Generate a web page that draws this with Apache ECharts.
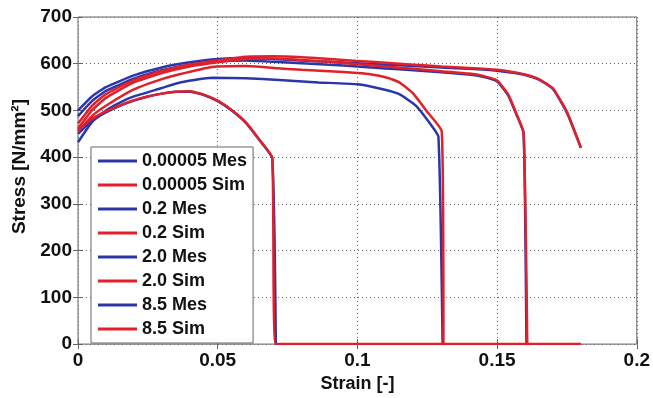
<!DOCTYPE html>
<html>
<head>
<meta charset="utf-8">
<script src="https://cdn.jsdelivr.net/npm/echarts@6/dist/echarts.min.js"></script>
<style>
  html, body { margin: 0; padding: 0; background: #fff; }
  #chart { width: 653px; height: 398px; }
</style>
</head>
<body>
<div id="chart"></div>
<script>
// legend names, in the order of the reference legend
const seriesNames = [
  '0.00005 Mes', '0.00005 Sim', '0.2 Mes', '0.2 Sim',
  '2.0 Mes', '2.0 Sim', '8.5 Mes', '8.5 Sim'
]

// [strain, stress]
const rate1Mes = [
  [0, 450], [0.005, 478], [0.01, 496], [0.015, 510], [0.02, 521], [0.025, 530],
  [0.03, 536], [0.035, 540], [0.04, 540], [0.045, 533], [0.05, 520], [0.055, 500],
  [0.06, 474], [0.065, 436], [0.0695, 398], [0.0708, 0]
]
const rate1Sim = [
  [0, 458], [0.005, 482], [0.01, 498], [0.015, 511], [0.02, 522], [0.025, 530],
  [0.03, 536], [0.035, 540], [0.04, 541], [0.045, 534], [0.05, 521], [0.055, 501],
  [0.06, 475], [0.065, 437], [0.0695, 399], [0.0708, 0], [0.18, 0]
]
const rate2Mes = [
  [0, 432], [0.005, 475], [0.01, 500], [0.015, 517], [0.02, 530], [0.03, 548],
  [0.0365, 560], [0.048, 570], [0.06, 569], [0.072, 565], [0.086, 560], [0.1, 556],
  [0.1087, 546], [0.115, 535], [0.121, 510], [0.126, 472], [0.129, 444], [0.1305, 0]
]
const rate2Sim = [
  [0, 455], [0.005, 488], [0.01, 510], [0.02, 545], [0.03, 567], [0.036, 577],
  [0.048, 593], [0.06, 595], [0.07, 591], [0.08, 587], [0.09, 584], [0.1, 580],
  [0.105, 577], [0.11, 571], [0.115, 560], [0.12, 536], [0.125, 497], [0.1302, 455],
  [0.1308, 0]
]
const rate3Mes = [
  [0, 488], [0.005, 520], [0.01, 542], [0.02, 568], [0.03, 586], [0.04, 598],
  [0.05, 605], [0.06, 607], [0.07, 604], [0.08, 601], [0.09, 598], [0.1, 594],
  [0.11, 590], [0.12, 586], [0.13, 582], [0.14, 577], [0.145, 572], [0.15, 562],
  [0.154, 532], [0.157, 490], [0.1595, 451], [0.1605, 0]
]
const rate3Sim = [
  [0, 461], [0.005, 500], [0.01, 527], [0.02, 560], [0.03, 580], [0.04, 594],
  [0.05, 603], [0.06, 610], [0.07, 611], [0.08, 608], [0.09, 604], [0.1, 599],
  [0.11, 594], [0.12, 589], [0.13, 584], [0.14, 579], [0.145, 574], [0.15, 564],
  [0.154, 534], [0.157, 492], [0.1595, 452], [0.1608, 0]
]
const rate4Mes = [
  [0, 500], [0.005, 530], [0.01, 550], [0.02, 575], [0.03, 592], [0.04, 603],
  [0.05, 610], [0.06, 612], [0.07, 610], [0.08, 607], [0.09, 604], [0.1, 601],
  [0.11, 598], [0.12, 595], [0.13, 592], [0.14, 589], [0.15, 585], [0.155, 581],
  [0.16, 576], [0.165, 566], [0.17, 546], [0.175, 495], [0.18, 420]
]
const rate4Sim = [
  [0, 472], [0.005, 510], [0.01, 535], [0.02, 565], [0.03, 585], [0.04, 598],
  [0.05, 607], [0.06, 615], [0.07, 616], [0.08, 614], [0.09, 610], [0.1, 606],
  [0.11, 602], [0.12, 598], [0.13, 594], [0.14, 591], [0.15, 587], [0.155, 583],
  [0.16, 577], [0.165, 567], [0.17, 547], [0.175, 497], [0.18, 420]
]
const seriesData = [rate1Mes, rate1Sim, rate2Mes, rate2Sim, rate3Mes, rate3Sim, rate4Mes, rate4Sim]

const blue = '#2b36a8'
const red = '#e0202a'
const font = 'Liberation Sans, Arial, sans-serif'

const chart = echarts.init(document.getElementById('chart'))

// mirror axes (top / right) carry only the inward ticks, like MATLAB's box
const tickOnly = {
  axisLabel: { show: false },
  axisLine: { show: false },
  splitLine: { show: false },
  axisTick: { show: true, inside: true, length: 5, lineStyle: { color: '#666' } },
}

const option = {
  animation: false,
  backgroundColor: '#fff',
  grid: {
    left: 78, right: 13, top: 17, bottom: 49,
    show: true, borderColor: '#666', borderWidth: 1,
  },
  legend: {
    orient: 'vertical',
    left: 91, top: 147,
    data: seriesNames,
    icon: 'rect',
    itemWidth: 39, itemHeight: 3, itemGap: 6,
    padding: [5, 6, 5, 7],
    backgroundColor: '#fff',
    borderColor: '#666', borderWidth: 1,
    textStyle: { fontFamily: font, fontWeight: 'bold', fontSize: 18, lineHeight: 18, color: '#111' },
  },
  xAxis: [
    {
      type: 'value', min: 0, max: 0.2, interval: 0.05,
      name: 'Strain [-]', nameLocation: 'middle', nameGap: 30,
      nameTextStyle: { fontFamily: font, fontWeight: 'bold', fontSize: 18, color: '#111' },
      axisLine: { show: false },
      axisTick: { show: true, inside: true, length: 5, lineStyle: { color: '#666' } },
      axisLabel: { fontFamily: font, fontWeight: 'bold', fontSize: 19, color: '#111', margin: 7 },
      splitLine: { show: true, lineStyle: { color: '#666', type: [1, 3] } },
    },
    Object.assign({ type: 'value', min: 0, max: 0.2, interval: 0.05, position: 'top' }, tickOnly),
  ],
  yAxis: [
    {
      type: 'value', min: 0, max: 700, interval: 100,
      name: 'Stress [N/mm²]', nameLocation: 'middle', nameGap: 46,
      nameTextStyle: { fontFamily: font, fontWeight: 'bold', fontSize: 19, color: '#111', padding: [0, 0, 0, 28] },
      axisLine: { show: false },
      axisTick: { show: true, inside: true, length: 5, lineStyle: { color: '#666' } },
      axisLabel: { fontFamily: font, fontWeight: 'bold', fontSize: 19, color: '#111', margin: 6 },
      splitLine: { show: true, lineStyle: { color: '#666', type: [1, 3] } },
    },
    Object.assign({ type: 'value', min: 0, max: 700, interval: 100, position: 'right' }, tickOnly),
  ],
  series: seriesNames.map((name, i) => ({
    name,
    type: 'line',
    data: seriesData[i],
    symbol: 'none',
    smooth: 0.15,
    z: i % 2 === 0 ? 2 : 3,
    lineStyle: { width: 2.5, color: i % 2 === 0 ? blue : red },
    itemStyle: { color: i % 2 === 0 ? blue : red },
  })),
}

chart.setOption(option)
</script>
</body>
</html>
